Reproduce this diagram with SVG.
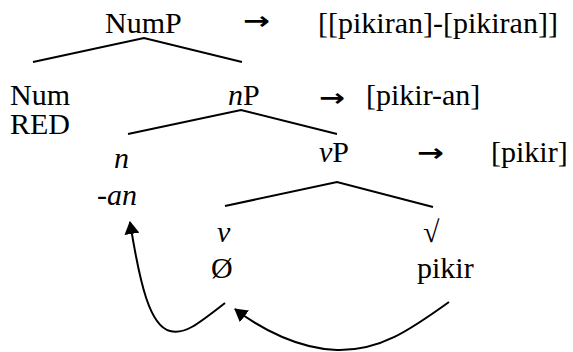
<svg xmlns="http://www.w3.org/2000/svg" width="573" height="352" viewBox="0 0 573 352">
<defs>
<marker id="ah" viewBox="0 0 13 15" refX="12" refY="7.5" markerWidth="13" markerHeight="15" markerUnits="userSpaceOnUse" orient="auto">
<path d="M0,0 L13,7.5 L0,15 Z" fill="#000"/>
</marker>
</defs>
<rect width="573" height="352" fill="#fff"/>
<g id="NumP"><text x="105" y="33" style="font-family:'Times New Roman','Liberation Serif',Tinos,serif;font-size:30px">NumP</text></g>
<g id="out1"><text x="318" y="33" style="font-family:'Times New Roman','Liberation Serif',Tinos,serif;font-size:30px">[[pikiran]-[pikiran]]</text></g>
<g id="Num"><text x="10" y="105" style="font-family:'Times New Roman','Liberation Serif',Tinos,serif;font-size:30px">Num</text><text x="10" y="134" style="font-family:'Times New Roman','Liberation Serif',Tinos,serif;font-size:30px">RED</text></g>
<g id="nP"><text x="228" y="105" style="font-family:'Times New Roman','Liberation Serif',Tinos,serif;font-size:30px"><tspan style="font-style:italic">n</tspan>P</text></g>
<g id="out2"><text x="366" y="105" style="font-family:'Times New Roman','Liberation Serif',Tinos,serif;font-size:30px">[pikir-an]</text></g>
<g id="n"><text x="114" y="168" style="font-family:'Times New Roman','Liberation Serif',Tinos,serif;font-size:30px;font-style:italic">n</text><text x="97" y="205" style="font-family:'Times New Roman','Liberation Serif',Tinos,serif;font-size:30px;font-style:italic">-an</text></g>
<g id="vP"><text x="319" y="162" style="font-family:'Times New Roman','Liberation Serif',Tinos,serif;font-size:30px"><tspan style="font-style:italic">v</tspan>P</text></g>
<g id="out3"><text x="491" y="162" style="font-family:'Times New Roman','Liberation Serif',Tinos,serif;font-size:30px">[pikir]</text></g>
<g id="v"><text x="217" y="242" style="font-family:'Times New Roman','Liberation Serif',Tinos,serif;font-size:30px;font-style:italic">v</text><text x="211" y="278" style="font-family:'Times New Roman','Liberation Serif',Tinos,serif;font-size:30px">Ø</text></g>
<g id="root"><text x="423" y="242" style="font-family:'Times New Roman','Liberation Serif',Tinos,serif;font-size:30px">√</text><text x="417" y="278" style="font-family:'Times New Roman','Liberation Serif',Tinos,serif;font-size:30px">pikir</text></g>
<g id="arrow1"><text x="243" y="29" font-family="DejaVu Sans" font-weight="bold" font-size="24" textLength="27" lengthAdjust="spacingAndGlyphs">→</text></g>
<g id="arrow2"><text x="319" y="106" font-family="DejaVu Sans" font-weight="bold" font-size="24" textLength="26" lengthAdjust="spacingAndGlyphs">→</text></g>
<g id="arrow3"><text x="417" y="161" font-family="DejaVu Sans" font-weight="bold" font-size="24" textLength="27" lengthAdjust="spacingAndGlyphs">→</text></g>
<g id="connectors" stroke="#000" stroke-width="2" fill="none">
<path d="M33,62 L144,38 L242,62"/>
<path d="M128,134 L241,110 L337,134"/>
<path d="M225,206 L337,182 L433,207"/>
<path d="M225,303 C197,325 184,335 170,331 C150,326 140,285 130,222" marker-end="url(#ah)"/>
<path d="M449,302 C410,330 380,351 337,350 C300,349 262,330 235,309" marker-end="url(#ah)"/>
</g>
</svg>
